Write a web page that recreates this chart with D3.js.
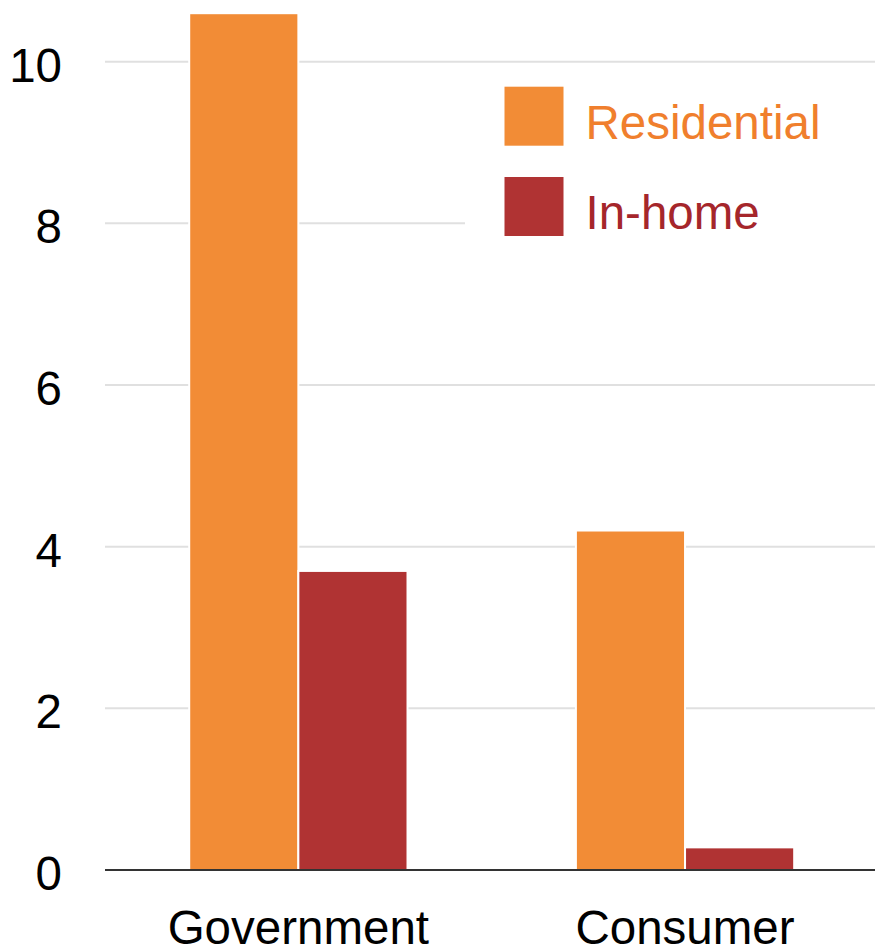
<!DOCTYPE html>
<html>
<head>
<meta charset="utf-8">
<script src="https://cdn.jsdelivr.net/npm/d3@7"></script>
<style>
  html, body { margin: 0; padding: 0; background: #fff; }
  svg { display: block; font-family: "Liberation Sans", Arial, sans-serif; }
</style>
</head>
<body>
<svg id="chart" width="875" height="948"></svg>
<script>
// Data
const categories = ["Government", "Consumer"];
const seriesNames = ["Residential", "In-home"];
const residential = [10.6, 4.2];
const inHome = [3.7, 0.28];
const yTicks = [0, 2, 4, 6, 8, 10];

const barColors = ["#F28C36", "#B03333"];
const textColors = ["#F07F2D", "#A5262B"];

const rows = categories.map((c, i) => ({ category: c, values: [residential[i], inHome[i]] }));

const svg = d3.select("#chart");
const W = 875;
const plotLeft = 105, plotRight = 878.4, yZero = 870, yTop = 61.7;

const x0 = d3.scaleBand()
  .domain(categories)
  .range([plotLeft, plotRight])
  .paddingInner(0.4355)
  .paddingOuter(0.2178);

const x1 = d3.scaleBand()
  .domain(seriesNames)
  .range([0, x0.bandwidth()])
  .padding(0);

const y = d3.scaleLinear().domain([0, 10]).range([yZero, yTop]);

// Gridlines
svg.append("g")
  .selectAll("line")
  .data(yTicks.filter(d => d !== 0))
  .join("line")
  .attr("x1", plotLeft).attr("x2", W)
  .attr("y1", d => y(d)).attr("y2", d => y(d))
  .attr("stroke", "#e0e0e0").attr("stroke-width", 2);

// Y tick labels
svg.append("g")
  .selectAll("text")
  .data(yTicks)
  .join("text")
  .attr("x", 62)
  .attr("y", d => y(d) + 20)
  .attr("text-anchor", "end")
  .attr("font-size", 47.5)
  .attr("fill", "#000")
  .text(d => d);

// Bars
const groups = svg.append("g")
  .selectAll("g")
  .data(rows)
  .join("g")
  .attr("transform", d => `translate(${x0(d.category)},0)`);

groups.selectAll("rect")
  .data(d => d.values.map((v, i) => ({ key: seriesNames[i], value: v, i })))
  .join("rect")
  .attr("x", d => x1(d.key))
  .attr("width", x1.bandwidth())
  .attr("y", d => y(d.value))
  .attr("height", d => yZero - y(d.value))
  .attr("fill", d => barColors[d.i])
  .attr("stroke", "#fff")
  .attr("stroke-width", 2);

// Baseline axis
svg.append("line")
  .attr("x1", plotLeft).attr("x2", W)
  .attr("y1", yZero).attr("y2", yZero)
  .attr("stroke", "#333").attr("stroke-width", 2);

// Category labels
svg.append("g")
  .selectAll("text")
  .data(categories)
  .join("text")
  .attr("x", d => x0(d) + x0.bandwidth() / 2)
  .attr("y", 944)
  .attr("text-anchor", "middle")
  .attr("font-size", 47.5)
  .attr("fill", "#000")
  .text(d => d);

// Legend with white backing
const legend = svg.append("g");
legend.append("rect")
  .attr("x", 465).attr("y", 72)
  .attr("width", W - 465).attr("height", 180)
  .attr("fill", "#fff");

const legendY = [86.7, 177];
const items = legend.selectAll("g.item")
  .data(seriesNames)
  .join("g")
  .attr("class", "item")
  .attr("transform", (d, i) => `translate(504.5,${legendY[i]})`);

items.append("rect")
  .attr("width", 59).attr("height", 59)
  .attr("fill", (d, i) => barColors[i]);

items.append("text")
  .attr("x", 81)
  .attr("y", 52)
  .attr("font-size", 47.5)
  .attr("fill", (d, i) => textColors[i])
  .text(d => d);
</script>
</body>
</html>
